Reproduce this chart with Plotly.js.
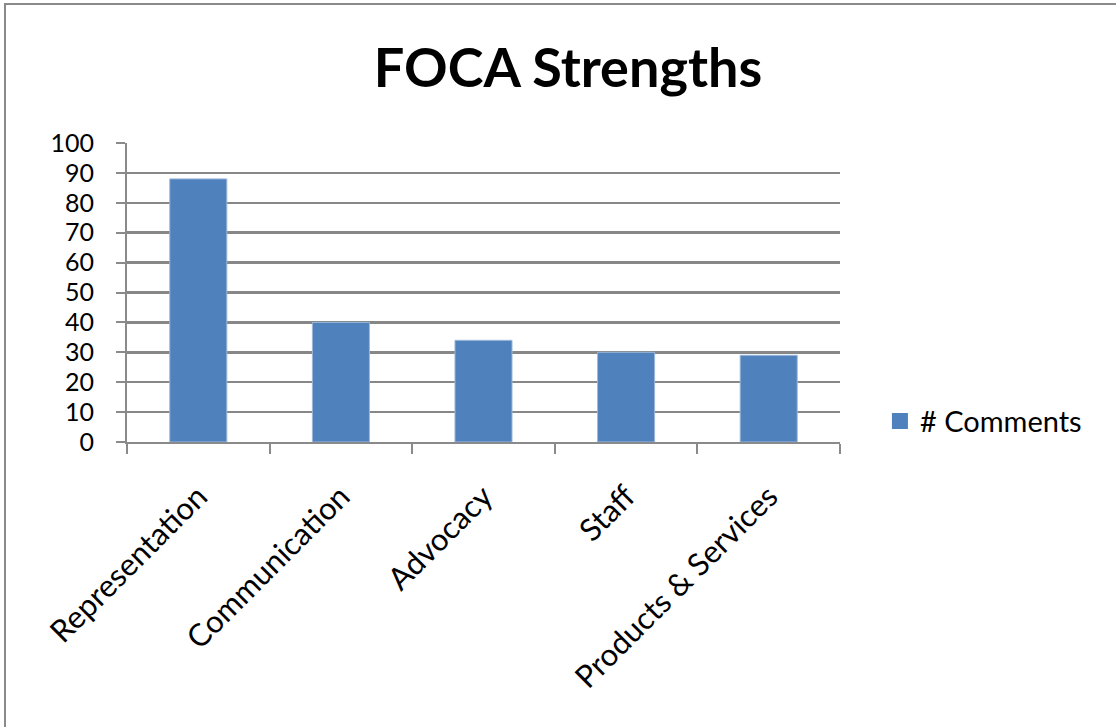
<!DOCTYPE html>
<html>
<head>
<meta charset="utf-8">
<script src="https://cdn.plot.ly/plotly-3.0.1.min.js"></script>
<style>
html,body{margin:0;padding:0;background:#fff;overflow:hidden;}
#frame{position:absolute;left:4px;top:3px;width:1200px;height:800px;border-left:2px solid #8a8a8a;border-top:2px solid #8a8a8a;}
#chart{position:absolute;left:0;top:0;width:1116px;height:727px;}
</style>
</head>
<body>
<div id="frame"></div>
<div id="chart"></div>
<script>
const categories = ["Representation", "Communication", "Advocacy", "Staff", "Products & Services"];
const comments = [88, 40, 34, 30, 29];
const seriesName = "# Comments";
const yTicks = [0, 10, 20, 30, 40, 50, 60, 70, 80, 90, 100];

const font = "Lato, 'Open Sans', sans-serif";
const barColor = "#4f81bd";
const trace = {
  type: "bar",
  x: categories,
  y: comments,
  name: seriesName,
  width: 0.4,
  marker: {color: barColor, line: {color: "#9db7da", width: 1}},
  showlegend: false
};
const legendTrace = {
  type: "scatter", mode: "markers",
  x: [null], y: [null],
  name: seriesName,
  marker: {symbol: "square", size: 17, color: barColor},
  showlegend: true, hoverinfo: "skip"
};
const layout = {
  width: 1116, height: 727,
  paper_bgcolor: "rgba(0,0,0,0)",
  plot_bgcolor: "rgba(0,0,0,0)",
  margin: {l: 127, r: 276, t: 143, b: 285},
  title: {text: "<b>FOCA Strengths</b>", font: {family: font, size: 54, color: "#000"},
          x: 0.509, xref: "container", xanchor: "center", y: 1 - 68/727, yref: "container", yanchor: "middle"},
  xaxis: {
    type: "category",
    tickangle: -45,
    ticks: "outside", tickson: "boundaries", ticklen: 10, tickwidth: 2, tickcolor: "#8a8a8a",
    showline: true, linecolor: "#8a8a8a", linewidth: 2,
    showgrid: false,
    tickfont: {family: font, size: 31, color: "#000"},
    ticklabelstandoff: 22,
    fixedrange: true
  },
  yaxis: {
    range: [0, 100],
    tickvals: yTicks,
    ticks: "outside", ticklen: 9, tickwidth: 2, tickcolor: "#8a8a8a",
    showline: true, linecolor: "#8a8a8a", linewidth: 2,
    showgrid: true, gridcolor: "#878787", gridwidth: 2.5,
    zeroline: false,
    tickfont: {family: font, size: 25, color: "#000"},
    ticklabelstandoff: 17,
    fixedrange: true
  },
  legend: {
    x: 1.056, xanchor: "left", y: 0.07, yanchor: "middle",
    font: {family: font, size: 29, color: "#000"},
    bgcolor: "rgba(0,0,0,0)"
  },
  showlegend: true
};
Plotly.newPlot("chart", [trace, legendTrace], layout, {displayModeBar: false, staticPlot: true});
</script>
</body>
</html>
